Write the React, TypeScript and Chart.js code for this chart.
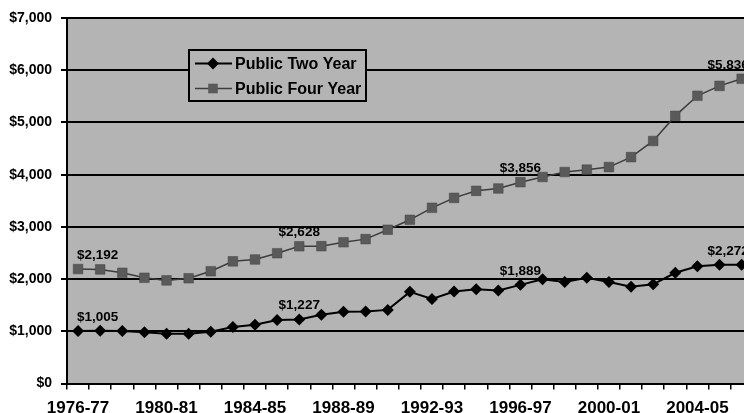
import React, { useEffect, useRef } from 'react';
import { Chart, registerables } from 'chart.js';

Chart.register(...registerables);

const years = [
  '1976-77', '1977-78', '1978-79', '1979-80', '1980-81', '1981-82', '1982-83', '1983-84',
  '1984-85', '1985-86', '1986-87', '1987-88', '1988-89', '1989-90', '1990-91', '1991-92',
  '1992-93', '1993-94', '1994-95', '1995-96', '1996-97', '1997-98', '1998-99', '1999-00',
  '2000-01', '2001-02', '2002-03', '2003-04', '2004-05', '2005-06', '2006-07',
];

const publicTwoYear = [
  1005, 1010, 1005, 980, 955, 955, 990, 1080,
  1125, 1215, 1227, 1315, 1375, 1380, 1410, 1755,
  1620, 1760, 1805, 1780, 1889, 1995, 1945, 2025,
  1945, 1855, 1900, 2120, 2245, 2275, 2272,
];

const publicFourYear = [
  2192, 2185, 2120, 2025, 1975, 2015, 2150, 2340,
  2375, 2495, 2628, 2630, 2705, 2765, 2945, 3135,
  3365, 3555, 3690, 3735, 3856, 3955, 4050, 4095,
  4145, 4335, 4645, 5125, 5510, 5700, 5836,
];

const labeledIndices = [0, 10, 20, 30];
const seriesNames = ['Public Two Year', 'Public Four Year'];
const yMin = 0;
const yMax = 7000;
const yStep = 1000;

const FONT = '"Liberation Sans", Arial, Helvetica, sans-serif';
const PLOT_BG = '#b4b4b4';

const plotBgPlugin = {
  id: 'plotBg',
  beforeDraw(chart: any) {
    const { ctx, chartArea } = chart;
    ctx.save();
    ctx.fillStyle = PLOT_BG;
    ctx.fillRect(chartArea.left, chartArea.top, chartArea.right - chartArea.left, chartArea.bottom - chartArea.top);
    ctx.restore();
  },
};

const pointLabelPlugin = {
  id: 'pointLabels',
  afterDatasetsDraw(chart: any) {
    const { ctx, chartArea } = chart;
    ctx.save();
    ctx.font = `bold 13.5px ${FONT}`;
    ctx.fillStyle = '#000';
    ctx.textBaseline = 'alphabetic';
    ctx.textAlign = 'center';
    chart.data.datasets.forEach((ds: any, di: number) => {
      const meta = chart.getDatasetMeta(di);
      labeledIndices.forEach((i) => {
        const el = meta.data[i];
        if (!el) return;
        const text = '$' + Number(ds.data[i]).toLocaleString('en-US');
        const w = ctx.measureText(text).width;
        let cx = el.x;
        cx = Math.max(cx, chartArea.left + 10 + w / 2);
        cx = Math.min(cx, chartArea.right - 4 - w / 2);
        ctx.fillText(text, cx, el.y - 10);
      });
    });
    ctx.restore();
  },
};

const legendBoxPlugin = {
  id: 'legendBox',
  afterDraw(chart: any) {
    const { ctx } = chart;
    const x = 189, y = 50, w = 177, h = 51;
    ctx.save();
    ctx.fillStyle = PLOT_BG;
    ctx.fillRect(x, y, w, h);
    ctx.strokeStyle = '#000';
    ctx.lineWidth = 2;
    ctx.strokeRect(x, y, w, h);
    const rows = [y + 13.5, y + 38.5];
    chart.data.datasets.forEach((ds: any, i: number) => {
      const ry = rows[i];
      ctx.strokeStyle = ds.borderColor;
      ctx.lineWidth = ds.borderWidth;
      ctx.beginPath();
      ctx.moveTo(x + 6, ry);
      ctx.lineTo(x + 43, ry);
      ctx.stroke();
      ctx.fillStyle = ds.pointBackgroundColor;
      const mx = x + 24;
      if (ds.pointStyle === 'rectRot') {
        const r = ds.pointRadius;
        ctx.beginPath();
        ctx.moveTo(mx - r, ry);
        ctx.lineTo(mx, ry - r);
        ctx.lineTo(mx + r, ry);
        ctx.lineTo(mx, ry + r);
        ctx.closePath();
        ctx.fill();
      } else {
        const s = ds.pointRadius * Math.SQRT1_2;
        ctx.fillRect(mx - s, ry - s, 2 * s, 2 * s);
      }
      ctx.fillStyle = '#000';
      ctx.font = `bold 16px ${FONT}`;
      ctx.textAlign = 'left';
      ctx.textBaseline = 'middle';
      ctx.fillText(ds.label, x + 46, ry + 1);
    });
    ctx.restore();
  },
};

export default function App() {
  const canvasRef = useRef<HTMLCanvasElement | null>(null);

  useEffect(() => {
    if (!canvasRef.current) return;
    const chart = new Chart(canvasRef.current, {
      type: 'line',
      data: {
        labels: years,
        datasets: [
          {
            label: seriesNames[0],
            data: publicTwoYear,
            borderColor: '#000',
            backgroundColor: '#000',
            borderWidth: 2,
            pointStyle: 'rectRot',
            pointRadius: 6,
            pointBackgroundColor: '#000',
            pointBorderColor: '#000',
            pointBorderWidth: 0,
            tension: 0,
          },
          {
            label: seriesNames[1],
            data: publicFourYear,
            borderColor: '#3c3c3c',
            backgroundColor: '#5a5a5a',
            borderWidth: 1.5,
            pointStyle: 'rect',
            pointRadius: 6.8,
            pointBackgroundColor: '#5a5a5a',
            pointBorderColor: '#444',
            pointBorderWidth: 0.5,
            tension: 0,
          },
        ],
      },
      options: {
        responsive: false,
        animation: false,
        devicePixelRatio: 1,
        layout: { padding: { left: 0, top: 18, right: 7, bottom: 0 } },
        plugins: {
          legend: { display: false },
          tooltip: { enabled: false },
        },
        scales: {
          x: {
            type: 'category',
            offset: true,
            grid: {
              offset: true,
              drawOnChartArea: false,
              drawTicks: true,
              tickLength: 6,
              color: '#000',
              lineWidth: 1.5,
            },
            border: { display: true, color: '#000', width: 2 },
            ticks: {
              autoSkip: false,
              maxRotation: 0,
              minRotation: 0,
              padding: 9,
              color: '#000',
              font: { family: FONT, size: 17, weight: 'bold' },
              callback: (_v: any, i: number) => (i % 4 === 0 ? years[i] : ''),
            },
            afterFit: (s: any) => { s.height = 46.5; },
          },
          y: {
            min: yMin,
            max: yMax,
            grid: {
              color: '#000',
              lineWidth: 2,
              drawTicks: true,
              tickLength: 6,
            },
            border: { display: true, color: '#000', width: 2 },
            ticks: {
              stepSize: yStep,
              padding: 9,
              color: '#000',
              font: { family: FONT, size: 14, weight: 'bold' },
              callback: (v: any) => '$' + Number(v).toLocaleString('en-US'),
            },
            afterFit: (s: any) => { s.width = 67; },
          },
        },
      },
      plugins: [plotBgPlugin, pointLabelPlugin, legendBoxPlugin],
    });
    return () => chart.destroy();
  }, []);

  return (
    <div style={{ position: 'fixed', left: 0, top: 0, width: 744, height: 413, overflow: 'hidden', background: '#fff' }}>
      <canvas ref={canvasRef} width={760} height={430} style={{ display: 'block', width: 760, height: 430 }} />
    </div>
  );
}
